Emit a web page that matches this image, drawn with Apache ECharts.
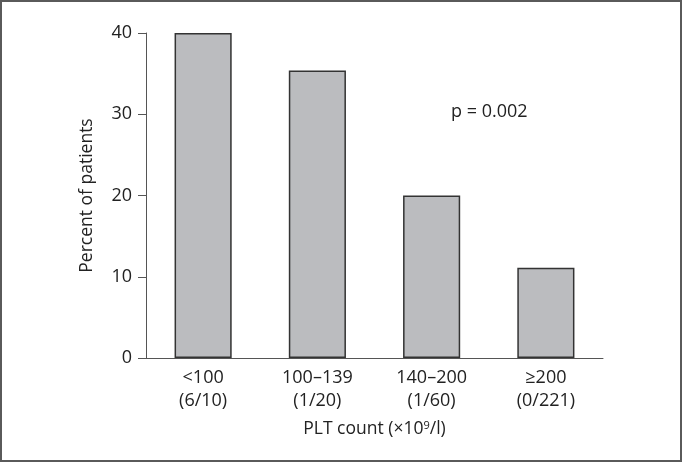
<!DOCTYPE html>
<html>
<head>
<meta charset="utf-8">
<script src="https://cdn.jsdelivr.net/npm/echarts@6/dist/echarts.min.js"></script>
<style>
    html, body { margin: 0; padding: 0; background: #fff; }
    #main {
        width: 682px; height: 462px;
        box-sizing: border-box;
        border: 2px solid #5a5a5a;
    }
</style>
</head>
<body>
<div id="main"></div>
<script>
// 数据
var categories = ['<100\n(6/10)', '100–139\n(1/20)', '140–200\n(1/60)', '≥200\n(0/221)'];
var percentValues = [40, 35.4, 20, 11.1];
var yTicks = [0, 10, 20, 30, 40];
var pValueText = 'p = 0.002';

var font = 'Open Sans';
var myChart = echarts.init(document.getElementById('main'));

var option = {
    animation: false,
    textStyle: { fontFamily: font },
    grid: {
        left: 144,
        right: 77,
        top: 31,
        bottom: 102
    },
    xAxis: {
        type: 'category',
        data: categories,
        name: '{n|PLT count (×10}{s|9}{n|/l)}',
        nameLocation: 'middle',
        nameGap: 62,
        nameTextStyle: {
            rich: {
                n: { fontSize: 17.5, color: '#222', fontFamily: font },
                s: { fontSize: 11, color: '#222', fontFamily: font, verticalAlign: 'top', padding: [0, 0, 8, 0] }
            }
        },
        axisLine: { lineStyle: { color: '#555', width: 1 } },
        axisTick: { alignWithLabel: false, length: 9, lineStyle: { color: '#555' } },
        axisLabel: {
            color: '#222',
            fontFamily: font,
            fontSize: 18,
            lineHeight: 23,
            margin: 8,
            interval: 0
        }
    },
    yAxis: {
        type: 'value',
        min: yTicks[0],
        max: yTicks[yTicks.length - 1],
        interval: 10,
        name: 'Percent of patients',
        nameLocation: 'middle',
        nameGap: 50,
        nameTextStyle: { fontFamily: font, fontSize: 17.5, color: '#222' },
        axisLine: { show: true, lineStyle: { color: '#555', width: 1 } },
        axisTick: { show: true, length: 8, lineStyle: { color: '#555' } },
        axisLabel: { color: '#222', fontFamily: font, fontSize: 18, margin: 14 },
        splitLine: { show: false }
    },
    graphic: [{
        type: 'text',
        left: 449,
        top: 101,
        style: { text: pValueText, font: '18px "Open Sans"', fill: '#222' }
    }],
    series: [{
        type: 'bar',
        data: percentValues,
        barWidth: '50%',
        itemStyle: {
            color: '#bbbcbf',
            borderColor: '#333',
            borderWidth: 1.5
        }
    }]
};

myChart.setOption(option);
</script>
</body>
</html>
